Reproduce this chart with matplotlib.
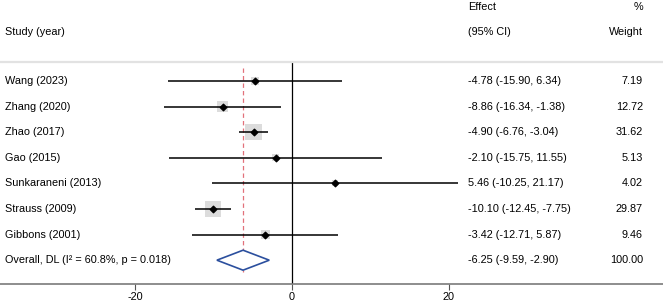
"""Forest plot: random-effects (DerSimonian-Laird) pooled mean difference."""

import matplotlib
matplotlib.use("Agg")
import matplotlib.pyplot as plt
import numpy as np
from matplotlib.patches import Polygon

plt.rcParams["font.family"] = ["Liberation Sans", "DejaVu Sans"]

STUDIES = ["Wang (2023)", "Zhang (2020)", "Zhao (2017)", "Gao (2015)",
           "Sunkaraneni (2013)", "Strauss (2009)", "Gibbons (2001)"]
EST = [-4.78, -8.86, -4.90, -2.10, 5.46, -10.10, -3.42]
LO = [-15.90, -16.34, -6.76, -15.75, -10.25, -12.45, -12.71]
HI = [6.34, -1.38, -3.04, 11.55, 21.17, -7.75, 5.87]
WEIGHT = [7.19, 12.72, 31.62, 5.13, 4.02, 29.87, 9.46]

OVERALL_LABEL = "Overall, DL (I\u00b2 = 60.8%, p = 0.018)"
OVERALL = (-6.25, -9.59, -2.90)
OVERALL_WEIGHT = 100.00
XTICKS = [-20, 0, 20]

FS = 7.8
BOX = "#dcdcdc"
BLUE = "#2b4f9e"
RED = "#d9424f"

fig = plt.figure(figsize=(6.63, 3.06), dpi=100)
ax = fig.add_axes([0, 22 / 306, 1, 284 / 306])
ax.set_xlim(-37.3, 47.4)
ax.set_ylim(7.93, -3.16)

rows = np.arange(len(STUDIES))
n = len(STUDIES)

# study rows
ax.scatter(EST, rows, s=np.array(WEIGHT) * 4.5, marker="s", color=BOX,
           linewidths=0, zorder=2)
ax.hlines(rows, LO, HI, color="black", lw=1.1, zorder=3)
ax.scatter(EST, rows, s=11, marker="D", color="black", zorder=4)

# pooled diamond
est, lo, hi = OVERALL
ax.add_patch(Polygon([(lo, n), (est, n - 0.39), (hi, n), (est, n + 0.39)],
                     closed=True, facecolor="white", edgecolor=BLUE, lw=1.2, zorder=3))

# reference lines
ax.plot([0, 0], [-0.74, 7.93], color="black", lw=0.9, zorder=1)
ax.plot([est, est], [-0.5, 7.45], color=RED, lw=0.9, alpha=0.75,
        ls=(0, (3.5, 2.5)), zorder=1)
ax.axhline(-0.74, color="#e2e2e2", lw=1.6)

# text columns
tr = ax.get_yaxis_transform()
x_lab, x_eff, x_wt = 5 / 663, 468 / 663, 643 / 663
ax.text(x_lab, -1.9, "Study (year)", transform=tr, fontsize=FS, va="center")
ax.text(x_eff, -2.9, "Effect", transform=tr, fontsize=FS, va="center")
ax.text(x_eff, -1.9, "(95% CI)", transform=tr, fontsize=FS, va="center")
ax.text(x_wt, -2.9, "%", transform=tr, fontsize=FS, va="center", ha="right")
ax.text(x_wt, -1.9, "Weight", transform=tr, fontsize=FS, va="center", ha="right")

for i, (name, e, l, h, w) in enumerate(zip(STUDIES, EST, LO, HI, WEIGHT)):
    ax.text(x_lab, i, name, transform=tr, fontsize=FS, va="center")
    ax.text(x_eff, i, f"{e:.2f} ({l:.2f}, {h:.2f})", transform=tr, fontsize=FS, va="center")
    ax.text(x_wt, i, f"{w:.2f}", transform=tr, fontsize=FS, va="center", ha="right")

ax.text(x_lab, n, OVERALL_LABEL, transform=tr, fontsize=FS, va="center")
ax.text(x_eff, n, f"{est:.2f} ({lo:.2f}, {hi:.2f})", transform=tr, fontsize=FS, va="center")
ax.text(x_wt, n, f"{OVERALL_WEIGHT:.2f}", transform=tr, fontsize=FS, va="center", ha="right")

# axis
for side in ("top", "left", "right"):
    ax.spines[side].set_visible(False)
ax.spines["bottom"].set_color("#7a7a7a")
ax.spines["bottom"].set_linewidth(1.2)
ax.set_yticks([])
ax.set_xticks(XTICKS)
ax.set_xticklabels([str(t) for t in XTICKS])
ax.tick_params(axis="x", direction="out", length=4, width=0.8, color="#555555",
               labelsize=FS, pad=2)

fig.savefig("out.png", dpi=100)
